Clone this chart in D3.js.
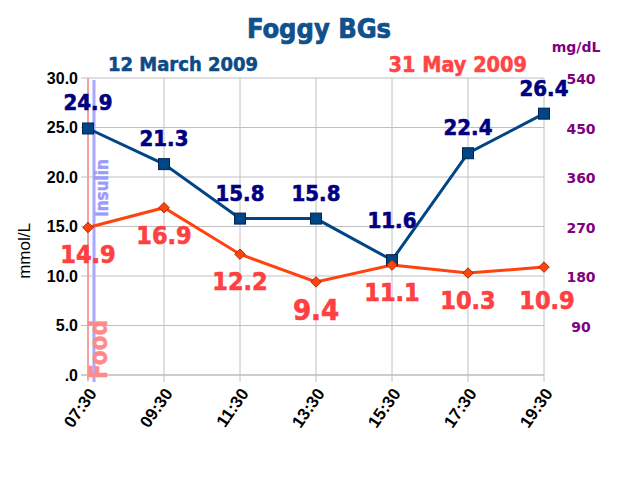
<!DOCTYPE html>
<html><head><meta charset="utf-8">
<script src="https://cdn.jsdelivr.net/npm/d3@7"></script>
<style>
body{margin:0;background:#fff;}
svg{display:block;}
</style></head>
<body>
<svg id="c" width="640" height="480"></svg>
<script>
const times = ["07:30","09:30","11:30","13:30","15:30","17:30","19:30"];
const march = [24.9,21.3,15.8,15.8,11.6,22.4,26.4];
const may = [14.9,16.9,12.2,9.4,11.1,10.3,10.9];
const leftTicks = [0,5,10,15,20,25,30];
const rightTicks = [90,180,270,360,450,540];

const svg = d3.select("#c");
const L=88, R=544, T=78, B=375;
const x = d3.scalePoint().domain(times).range([L,R]);
const y = d3.scaleLinear().domain([0,30]).range([B,T]);
const y2 = d3.scaleLinear().domain([0,540]).range([B,T]);
const cond = "'DejaVu Sans Condensed','DejaVu Sans',sans-serif";
const last = times.length-1;

// grid
const g = svg.append("g");
g.selectAll(".hg").data(leftTicks).join("line")
  .attr("x1",L-7).attr("x2",R).attr("y1",d=>y(d)).attr("y2",d=>y(d))
  .attr("stroke",d=>d===0?"#999":"#c0c0c0").attr("stroke-width",1);
g.selectAll(".vg").data(times).join("line")
  .attr("x1",d=>x(d)).attr("x2",d=>x(d)).attr("y1",T).attr("y2",B+7)
  .attr("stroke","#c0c0c0").attr("stroke-width",1);

// left axis
const ax = svg.append("g").attr("transform",`translate(${L},0)`)
  .call(d3.axisLeft(y).tickValues(leftTicks).tickSize(0).tickPadding(10)
    .tickFormat(d=>d===0?".0":d.toFixed(1)));
ax.select(".domain").remove();
ax.selectAll("text").attr("font-family","'Liberation Sans',Arial,sans-serif")
  .attr("font-weight","bold").attr("font-size",16).attr("fill","#000");

// right axis
const ar = svg.append("g").attr("transform",`translate(581,0)`)
  .call(d3.axisRight(y2).tickValues(rightTicks).tickSize(0).tickPadding(0));
ar.select(".domain").remove();
ar.selectAll("text").attr("text-anchor","middle").attr("dy","0.4em")
  .attr("font-family","'DejaVu Sans',sans-serif").attr("font-weight","bold")
  .attr("font-size",14).attr("fill","#800080");

// x axis
const axb = svg.append("g").attr("transform",`translate(0,${B})`)
  .call(d3.axisBottom(x).tickSize(0).tickPadding(0));
axb.select(".domain").remove();
axb.selectAll("text")
  .attr("text-anchor","end")
  .attr("transform",`translate(4,15) rotate(-55)`)
  .attr("dy","0.35em").attr("y",0)
  .attr("font-family","'Liberation Sans',Arial,sans-serif")
  .attr("font-weight","bold").attr("font-size",17).attr("fill","#000");

// food / insulin markers
svg.append("line").attr("x1",x(times[0])).attr("x2",x(times[0])).attr("y1",T).attr("y2",B+5)
  .attr("stroke","#f2a0a0").attr("stroke-width",2);
svg.append("line").attr("x1",x(times[0])+6).attr("x2",x(times[0])+6).attr("y1",T+2).attr("y2",B+7)
  .attr("stroke","#a8a8ff").attr("stroke-width",3);
svg.append("text").attr("transform",`translate(${x(times[0])+20},217) rotate(-90)`)
  .attr("font-family",cond).attr("font-weight","bold").attr("font-size",17)
  .attr("fill","#9a9aff").attr("stroke","#9a9aff").attr("stroke-width",0.4).text("Insulin");
svg.append("text").attr("transform",`translate(${x(times[0])+19},379) rotate(-90)`)
  .attr("font-family",cond).attr("font-weight","bold").attr("font-size",24)
  .attr("fill","#ff8a8a").attr("stroke","#ff8a8a").attr("stroke-width",0.5).text("Food");

// lines
const line = d3.line().x((d,i)=>x(times[i])).y(d=>y(d));
svg.append("path").datum(march).attr("d",line).attr("fill","none")
  .attr("stroke","#004586").attr("stroke-width",3);
svg.append("path").datum(may).attr("d",line).attr("fill","none")
  .attr("stroke","#ff420e").attr("stroke-width",3);

// markers
svg.selectAll(".sq").data(march).join("rect")
  .attr("x",(d,i)=>x(times[i])-5.5).attr("y",d=>y(d)-5.5)
  .attr("width",11).attr("height",11).attr("fill","#004586").attr("stroke","#00264d").attr("stroke-width",1);
svg.selectAll(".dm").data(may).join("path")
  .attr("d",d3.symbol(d3.symbolDiamond2,70))
  .attr("transform",(d,i)=>`translate(${x(times[i])},${y(d)})`)
  .attr("fill","#ff420e").attr("stroke","#a83000").attr("stroke-width",1);

// labels
const minMarch = d3.min(march);
svg.selectAll(".lb").data(march).join("text")
  .attr("x",(d,i)=>x(times[i])).attr("y",d=>y(d)-(d===minMarch?32:18))
  .attr("text-anchor","middle").attr("font-family",cond).attr("font-weight","bold")
  .attr("font-size",22).attr("fill","#000080").attr("stroke","#000080").attr("stroke-width",0.6)
  .text(d=>d.toFixed(1));
const minMay = d3.min(may);
svg.selectAll(".lr").data(may).join("text")
  .attr("x",(d,i)=>x(times[i])+(i===last?3:0))
  .attr("y",(d,i)=>y(d)+(d===minMay?38:(i===last?42:36)))
  .attr("text-anchor","middle").attr("font-family",cond).attr("font-weight","bold")
  .attr("font-size",d=>d===minMay?29:25).attr("fill","#ff4040").attr("stroke","#ff4040").attr("stroke-width",0.6)
  .text(d=>d.toFixed(1));

// titles
svg.append("text").attr("x",319).attr("y",38).attr("text-anchor","middle")
  .attr("font-family",cond).attr("font-weight","bold").attr("font-size",27)
  .attr("fill","#10508c").attr("stroke","#10508c").attr("stroke-width",0.7).text("Foggy BGs");
svg.append("text").attr("x",108).attr("y",71)
  .attr("font-family",cond).attr("font-weight","bold").attr("font-size",20)
  .attr("fill","#0d4a86").attr("stroke","#0d4a86").attr("stroke-width",0.5).text("12 March 2009");
svg.append("text").attr("x",527).attr("y",72).attr("text-anchor","end")
  .attr("font-family",cond).attr("font-weight","bold").attr("font-size",21.5)
  .attr("fill","#ff4545").attr("stroke","#ff4545").attr("stroke-width",0.5).text("31 May 2009");
svg.append("text").attr("x",576).attr("y",52).attr("text-anchor","middle")
  .attr("font-family","'DejaVu Sans',sans-serif").attr("font-weight","bold").attr("font-size",14)
  .attr("fill","#800080").text("mg/dL");
svg.append("text").attr("transform","translate(30,251) rotate(-90)").attr("text-anchor","middle")
  .attr("font-family","'Liberation Sans',Arial,sans-serif").attr("font-size",17)
  .attr("fill","#000").text("mmol/L");
</script>
</body></html>
